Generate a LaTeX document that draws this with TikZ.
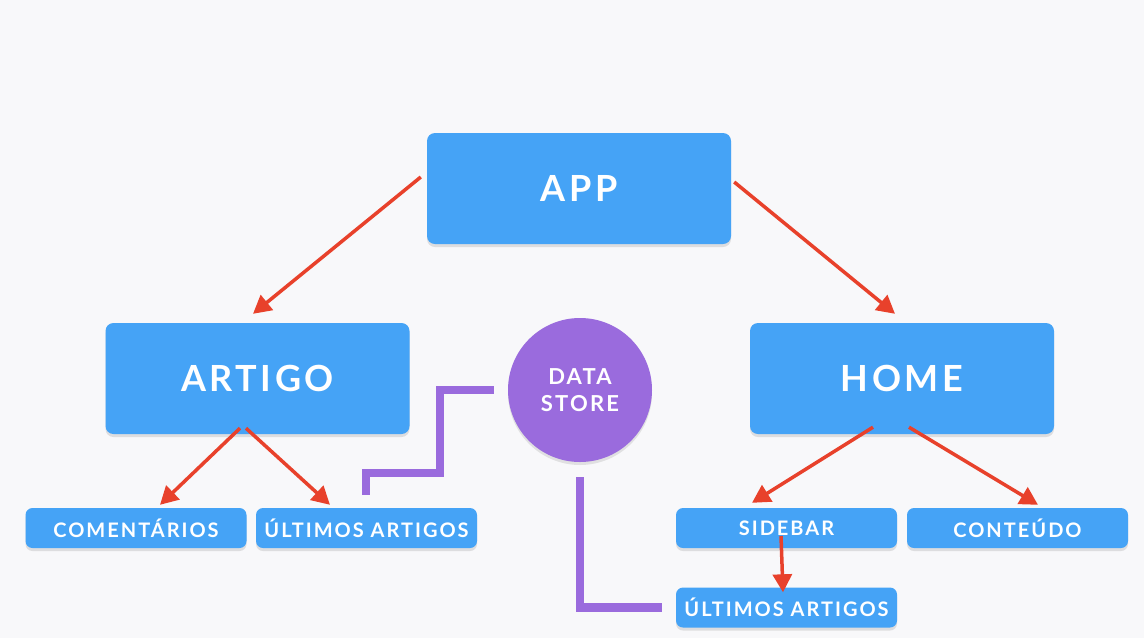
\documentclass[tikz,border=0pt]{standalone}
\usepackage{fontspec}
\newfontfamily\lato{Lato}[LetterSpace=10]
\usetikzlibrary{arrows.meta,shadows,calc}
\definecolor{bgc}{HTML}{F8F8FA}
\definecolor{boxblue}{HTML}{45A3F6}
\definecolor{arrred}{HTML}{E8412B}
\definecolor{purp}{HTML}{9A6BDD}
\tikzset{
  bigbox/.style={fill=boxblue, rounded corners=8pt, minimum width=304pt, minimum height=111pt,
    text=white, font=\lato\bfseries\fontsize{36}{40}\selectfont,
    drop shadow={opacity=0.22, shadow xshift=0pt, shadow yshift=-3pt}},
  smallbox/.style={fill=boxblue, rounded corners=7pt, minimum width=221pt, minimum height=40pt,
    text=white, font=\lato\bfseries\fontsize{20}{22}\selectfont,
    drop shadow={opacity=0.22, shadow xshift=0pt, shadow yshift=-3pt}},
  storenode/.style={circle, fill=purp, minimum size=144pt, inner sep=0pt, text=white, align=center,
    font=\lato\bfseries\fontsize{22}{27}\selectfont,
    drop shadow={opacity=0.2, shadow xshift=0pt, shadow yshift=-3pt}},
  arr/.style={draw=arrred, line width=3.5pt, -{Triangle[length=18pt,width=19pt]}},
  purpline/.style={draw=purp, line width=8.5pt}
}
\begin{document}
\begin{tikzpicture}[x=1pt,y=-1pt]
\fill[bgc] (0,0) rectangle (1144,638);
\useasboundingbox (0,0) rectangle (1144,638);

\node[bigbox] (app) at (579,188.5) {APP};
\node[bigbox] (artigo) at (257.5,378.5) {ARTIGO};
\node[bigbox] (home) at (902,378.5) {HOME};
\node[smallbox] (coment) at (136,528) {COMENTÁRIOS};
\node[smallbox] (ultA) at (366.5,528) {ÚLTIMOS ARTIGOS};
\node[smallbox] (sidebar) at (786.5,528) {SIDEBAR};
\node[smallbox] (conteudo) at (1017.5,528) {CONTEÚDO};
\node[smallbox] (ultB) at (786.5,607.5) {ÚLTIMOS ARTIGOS};
\node[storenode] (ds) at (580,390) {DATA\\STORE};

\coordinate (dsL) at (366,495);

\draw[purpline] ([xshift=-14pt]ds.west) -| (440,473) -| (dsL);
\draw[purpline] ([yshift=-15pt]ds.south) |- ([xshift=-14pt]ultB.west);

\draw[arr] ([shift={(-6,-11.5)}]app.west) -- ([shift={(-4.5,-9)}]artigo.north);
\draw[arr] ([shift={(3,-6.5)}]app.east) -- ([shift={(-7,-9)}]home.north);
\draw[arr] ([shift={(-17.5,-6)}]artigo.south) -- ([shift={(24,-3)}]coment.north);
\draw[arr] ([shift={(-11.5,-6)}]artigo.south) -- ([shift={(-36.5,-3)}]ultA.north);
\draw[arr] ([shift={(-29,-7)}]home.south) -- ([shift={(-34.5,-5)}]sidebar.north);
\draw[arr] ([shift={(7,-7)}]home.south) -- ([shift={(20.5,-3)}]conteudo.north);
\draw[arr] ([shift={(-5.5,8)}]sidebar.center) -- ([shift={(-3.5,5)}]ultB.north);
\end{tikzpicture}
\end{document}
